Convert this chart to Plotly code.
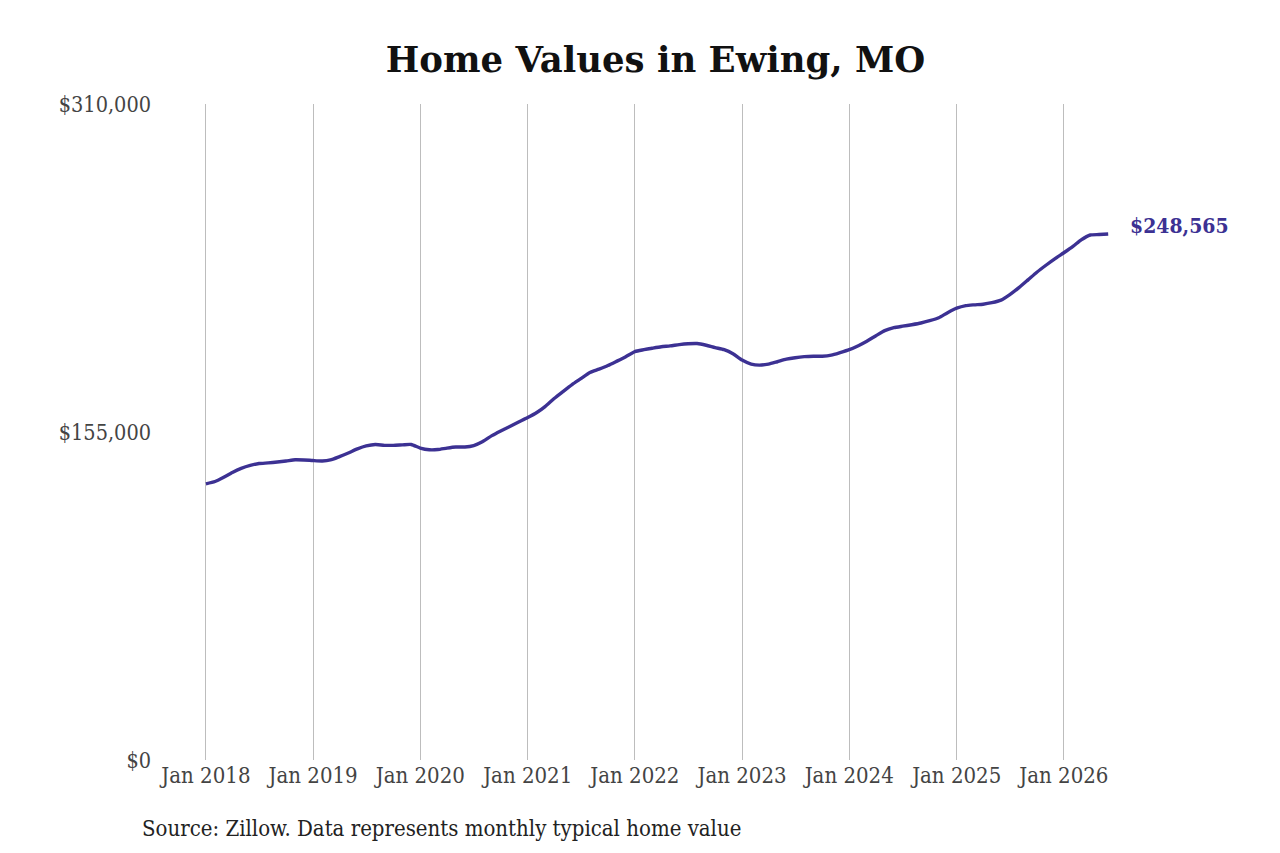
import plotly.graph_objects as go
import pandas as pd

# Monthly typical home value, Jan 2018 - Jun 2026
dates = pd.date_range("2018-01-01", "2026-06-01", freq="MS").strftime("%Y-%m-%d").tolist()
values = [
    # 2018
    130500, 131600, 133500, 135900, 137800, 139200, 140100, 140400, 140800, 141300, 141900, 141800,
    # 2019
    141500, 141300, 141800, 143400, 145100, 147000, 148400, 149100, 148700, 148700, 148900, 149100,
    # 2020
    147400, 146600, 146700, 147400, 147900, 147900, 148600, 150500, 153300, 155500, 157600, 159700,
    # 2021
    161800, 164200, 167000, 170800, 174100, 177400, 180200, 183100, 184700, 186400, 188500, 190600,
    # 2022
    193000, 193900, 194600, 195300, 195700, 196300, 196700, 196800, 196000, 194900, 193900, 192000,
    # 2023
    189000, 187100, 186600, 187100, 188200, 189400, 190100, 190600, 190800, 190800, 191300, 192500,
    # 2024
    193900, 195800, 197900, 200500, 202900, 204300, 205000, 205700, 206500, 207600, 209000, 211400,
    # 2025
    213500, 214700, 215100, 215400, 216100, 217300, 219900, 223200, 226900, 230500, 233800, 236800,
    # 2026
    239700, 242700, 245800, 248100, 248300, 248565,
]

y_ticks = [0, 155000, 310000]
y_tick_labels = ["$0", "$155,000", "$310,000"]
x_ticks = ["2018-01-01", "2019-01-01", "2020-01-01", "2021-01-01", "2022-01-01",
           "2023-01-01", "2024-01-01", "2025-01-01", "2026-01-01"]
x_tick_labels = ["Jan 2018", "Jan 2019", "Jan 2020", "Jan 2021", "Jan 2022",
                 "Jan 2023", "Jan 2024", "Jan 2025", "Jan 2026"]

title_text = "Home Values in Ewing, MO"
source_text = "Source: Zillow. Data represents monthly typical home value"
end_label = "$248,565"

LINE = "#3c3193"
SERIF = "DejaVu Serif Condensed, DejaVu Serif, serif"

# page has an 8px body margin; margins below compensate for it
W, H = 1280, 853
L, R, T, B = 153, 171, 96, 101
PW, PH = W - L - R, H - T - B

fig = go.Figure()
fig.add_trace(go.Scatter(
    x=dates, y=values, mode="lines",
    line=dict(color=LINE, width=3.4, shape="spline", smoothing=0.6),
    cliponaxis=False, hoverinfo="x+y", showlegend=False,
))

fig.add_annotation(
    x=dates[-1], y=values[-1], text="<b>" + end_label + "</b>",
    xref="x", yref="y", xanchor="left", yanchor="middle",
    xshift=20, yshift=9, showarrow=False,
    font=dict(family=SERIF, size=21, color=LINE),
)

fig.add_annotation(
    x=(132 - L) / PW, y=(H - B - 820) / PH, xref="paper", yref="paper",
    xanchor="left", yanchor="middle", text=source_text,
    showarrow=False, font=dict(family=SERIF, size=22, color="#222222"),
)

fig.update_layout(
    width=W, height=H,
    margin=dict(l=L, r=R, t=T, b=B, pad=0),
    paper_bgcolor="white", plot_bgcolor="white",
    title=dict(text="<b>" + title_text + "</b>", x=647.5 / W, xanchor="center",
               y=1 - 52 / H, yanchor="middle",
               font=dict(family="DejaVu Serif, serif", size=35.5, color="#111111")),
    xaxis=dict(
        range=["2017-08-01", "2026-07-01"],
        tickvals=x_ticks, ticktext=x_tick_labels,
        showgrid=True, gridcolor="#bdbdbd", gridwidth=1,
        showline=False, zeroline=False, ticks="",
        tickfont=dict(family=SERIF, size=22, color="#444444"),
        fixedrange=True,
    ),
    yaxis=dict(
        range=[0, 310000],
        tickvals=y_ticks, ticktext=y_tick_labels,
        showgrid=False, showline=False, zeroline=False, ticks="",
        tickfont=dict(family=SERIF, size=21.5, color="#444444"),
        ticklabelstandoff=9,
        fixedrange=True,
    ),
)

fig.write_html("out.html")
